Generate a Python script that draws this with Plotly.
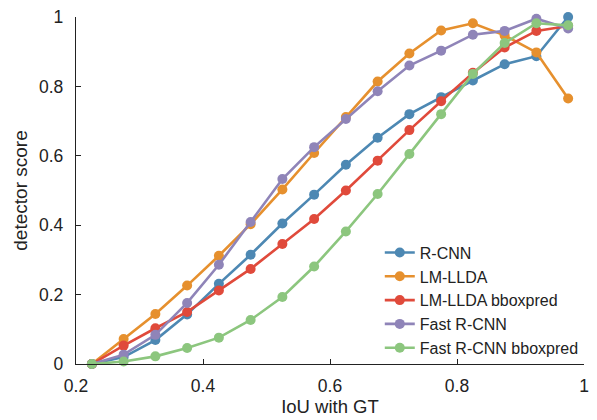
import plotly.graph_objects as go

iou = [0.225, 0.275, 0.325, 0.375, 0.425, 0.475, 0.525, 0.575,
       0.625, 0.675, 0.725, 0.775, 0.825, 0.875, 0.925, 0.975]

rcnn = [0.0, 0.02, 0.069, 0.143, 0.231, 0.315, 0.405, 0.488,
        0.574, 0.652, 0.72, 0.769, 0.817, 0.864, 0.887, 1.0]
lm_llda = [0.0, 0.072, 0.144, 0.226, 0.312, 0.403, 0.503, 0.608,
           0.712, 0.814, 0.895, 0.961, 0.982, 0.947, 0.898, 0.765]
lm_llda_bbox = [0.0, 0.053, 0.103, 0.150, 0.212, 0.274, 0.346, 0.418,
                0.5, 0.586, 0.674, 0.757, 0.839, 0.912, 0.96, 0.974]
fast_rcnn = [0.0, 0.027, 0.084, 0.176, 0.286, 0.409, 0.533, 0.625,
             0.706, 0.786, 0.86, 0.903, 0.949, 0.96, 0.995, 0.967]
fast_rcnn_bbox = [0.0, 0.007, 0.022, 0.046, 0.076, 0.127, 0.193, 0.281,
                  0.382, 0.49, 0.605, 0.72, 0.836, 0.925, 0.982, 0.976]

names = ["R-CNN", "LM-LLDA", "LM-LLDA bboxpred", "Fast R-CNN", "Fast R-CNN bboxpred"]
series = [rcnn, lm_llda, lm_llda_bbox, fast_rcnn, fast_rcnn_bbox]
colors = ["#4D88B3", "#E6902E", "#E04A3B", "#8F84B8", "#8CC67E"]

x_ticks = [0.2, 0.4, 0.6, 0.8, 1.0]
x_ticklabels = ["0.2", "0.4", "0.6", "0.8", "1"]
y_ticks = [0, 0.2, 0.4, 0.6, 0.8, 1.0]
y_ticklabels = ["0", "0.2", "0.4", "0.6", "0.8", "1"]

FONT = "Liberation Sans, Arial, Helvetica, sans-serif"
INK = "#222222"

fig = go.Figure()
for name, vals, col in zip(names, series, colors):
    fig.add_trace(go.Scatter(
        x=iou, y=vals, name=name, mode="lines+markers",
        line=dict(color=col, width=2.6),
        marker=dict(color=col, size=10, symbol="circle"),
        cliponaxis=False,
    ))

axis_common = dict(
    showgrid=False, zeroline=False, showline=True, linecolor=INK,
    linewidth=1.3, ticks="inside", ticklen=5, tickwidth=1.3, tickcolor=INK,
    tickfont=dict(family=FONT, size=17.5, color=INK),
    mirror=False, automargin=False, ticklabeloverflow="allow",
)

# the page body adds an 8px offset, so the figure is sized to fit the window
fig.update_layout(
    width=589, height=412,
    margin=dict(l=68, r=13, t=9, b=56),
    paper_bgcolor="white", plot_bgcolor="white",
    font=dict(family=FONT, size=16, color=INK),
    xaxis=dict(range=[0.2, 1.0], tickvals=x_ticks, ticktext=x_ticklabels,
               ticklabelstandoff=6,
               title=dict(text="IoU with GT", font=dict(family=FONT, size=18.5, color=INK), standoff=2),
               **axis_common),
    yaxis=dict(range=[0, 1.0], tickvals=y_ticks, ticktext=y_ticklabels,
               ticklabelstandoff=8,
               title=dict(text="detector score", font=dict(family=FONT, size=19, color=INK), standoff=6),
               **axis_common),
    legend=dict(x=0.598, y=0.37, xanchor="left", yanchor="top",
                bgcolor="rgba(0,0,0,0)", font=dict(family=FONT, size=16, color=INK),
                tracegroupgap=0, itemwidth=30),
    showlegend=True,
)

fig.write_html("out.html")
